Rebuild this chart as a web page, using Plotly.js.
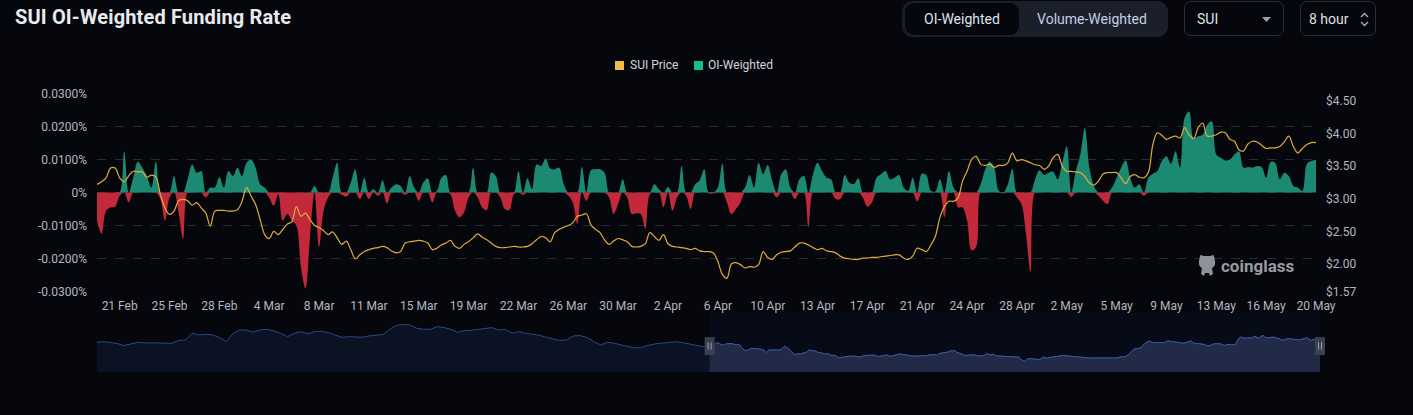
<!DOCTYPE html>
<html><head><meta charset="utf-8">
<script src="https://cdn.plot.ly/plotly-3.0.1.min.js"></script>
<style>
html,body{margin:0;padding:0;background:#05070d;width:1413px;height:415px;overflow:hidden;font-family:Roboto,"Noto Sans",sans-serif;}
#chart{position:absolute;left:0;top:0;width:1413px;height:415px;}
.ov{position:absolute;z-index:5;}
.title{left:15px;top:5px;font-weight:700;font-size:20px;letter-spacing:0.15px;color:#e8eaef;white-space:nowrap;}
.seg{left:902px;top:1px;width:266px;height:36px;border-radius:11px;background:#1b1f29;}
.seg .on{position:absolute;left:3px;top:2px;width:114px;height:32px;border-radius:9px;background:#05070d;color:#dde3ee;font-size:14px;line-height:32px;text-align:center;}
.seg .off{position:absolute;left:122px;top:2px;width:136px;height:32px;color:#c3d0e6;font-size:14px;line-height:32px;text-align:center;}
.box{top:1px;height:35px;border:1px solid #2a2f3a;border-radius:7px;color:#dde1e8;font-size:14px;line-height:35px;box-sizing:border-box;}
.wm{left:1197px;top:254px;color:#979ba3;font-weight:700;font-size:17px;white-space:nowrap;}
.lg{top:57px;font-size:12px;color:#d2d6de;white-space:nowrap;line-height:16px;}
.sw{position:absolute;top:4px;width:9px;height:9px;}
</style></head>
<body>
<div id="chart"></div>
<div class="ov title">SUI OI-Weighted Funding Rate</div>
<div class="ov seg"><div class="on">OI-Weighted</div><div class="off">Volume-Weighted</div></div>
<div class="ov box" style="left:1184px;width:100px;"><span style="position:absolute;left:12px;">SUI</span>
<svg style="position:absolute;left:77px;top:15px" width="9" height="5"><path d="M0 0 L9 0 L4.5 5 Z" fill="#9aa0aa"/></svg></div>
<div class="ov box" style="left:1300px;width:76px;"><span style="position:absolute;left:8px;">8 hour</span>
<svg style="position:absolute;left:59px;top:10px" width="9" height="15"><path d="M1 5 L4.5 1.5 L8 5 M1 10 L4.5 13.5 L8 10" stroke="#aab0ba" stroke-width="1.3" fill="none"/></svg></div>
<div class="ov lg" style="left:615px;"><span class="sw" style="left:0;background:#f0bc45"></span><span style="position:absolute;left:15px;">SUI Price</span></div>
<div class="ov lg" style="left:694px;"><span class="sw" style="left:0;background:#14c184"></span><span style="position:absolute;left:14px;">OI-Weighted</span></div>
<div class="ov wm"><svg width="20" height="24" style="vertical-align:middle;margin-right:4px"><path d="M3 2 Q4 0 6 2 L14 2 Q16 0 17 2 L18 7 Q19 12 15 14 L16 20 L13 22 L12 19 L8 19 L7 22 L4 20 L5 14 Q1 12 2 7 Z" fill="#8d9198"/></svg><span style="vertical-align:middle">coinglass</span></div>
<script>
const funding = [
-0.0085,-0.0125,-0.0055,-0.0045,-0.0043,-0.0010,0.0125,-0.0030,0.0045,0.0093,
0.0075,0.0050,0.0015,0.0093,-0.0020,-0.0085,-0.0015,0.0050,-0.0060,-0.0140,
0.0040,0.0085,0.0060,0.0065,-0.0015,0.0015,0.0015,0.0047,0.0015,0.0065,
0.0050,0.0075,0.0050,0.0090,0.0100,0.0075,0.0025,0.0015,-0.0015,-0.0040,
-0.0005,-0.0085,-0.0065,-0.0085,-0.0100,-0.0225,-0.0290,-0.0135,0.0020,-0.0165,
-0.0055,-0.0015,0.0045,0.0090,-0.0007,-0.0013,0.0030,0.0070,-0.0020,0.0045,
-0.0020,0.0010,-0.0010,0.0037,-0.0033,0.0015,0.0025,0.0020,-0.0007,0.0050,
0.0015,-0.0025,0.0030,0.0043,-0.0030,0.0005,0.0045,0.0053,-0.0005,-0.0055,
-0.0075,-0.0060,-0.0015,0.0075,-0.0015,-0.0045,-0.0053,0.0060,0.0050,-0.0015,
-0.0050,-0.0053,-0.0005,0.0065,-0.0007,0.0043,0.0010,0.0085,0.0080,0.0103,
0.0073,0.0070,0.0075,0.0025,-0.0010,-0.0030,-0.0095,0.0077,-0.0025,0.0067,
0.0070,0.0070,0.0060,-0.0015,-0.0065,-0.0035,0.0040,-0.0015,-0.0065,-0.0063,
-0.0065,-0.0110,-0.0005,0.0025,0.0010,-0.0045,0.0017,-0.0055,-0.0015,0.0080,
-0.0010,-0.0050,0.0025,0.0037,0.0070,-0.0003,-0.0003,0.0015,0.0087,-0.0030,
-0.0065,-0.0050,-0.0030,0.0015,0.0053,0.0015,0.0090,0.0055,0.0083,0.0035,
-0.0015,0.0055,0.0070,0.0015,-0.0020,0.0040,0.0050,-0.0105,0.0055,0.0090,
0.0065,0.0045,0.0040,-0.0020,-0.0020,0.0053,0.0030,0.0025,0.0043,-0.0015,
-0.0043,-0.0030,0.0045,0.0055,0.0065,0.0040,0.0045,0.0053,0.0015,0.0005,
0.0045,-0.0027,0.0057,0.0053,0.0005,0.0003,0.0040,-0.0075,0.0065,0.0015,
-0.0045,-0.0045,-0.0085,-0.0175,-0.0165,0.0025,0.0070,0.0093,0.0075,0.0005,
-0.0003,0.0025,0.0072,-0.0015,-0.0035,-0.0125,-0.0240,0.0040,0.0067,0.0053,
0.0060,0.0063,0.0040,0.0090,0.0140,-0.0013,0.0065,0.0115,0.0195,0.0075,
0.0020,-0.0010,-0.0025,-0.0035,0.0015,0.0045,0.0075,0.0097,0.0045,0.0015,
0.0025,-0.0010,0.0045,0.0057,0.0065,0.0095,0.0110,0.0087,0.0125,0.0075,
0.0225,0.0245,0.0165,0.0170,0.0175,0.0205,0.0215,0.0115,0.0105,0.0097,
0.0100,0.0115,0.0125,0.0075,0.0077,0.0075,0.0080,0.0077,0.0045,0.0093,
0.0090,0.0040,0.0060,0.0050,0.0020,0.0015,0.0005,0.0087,0.0095,0.0100
];
const price = [
3.22,3.26,3.32,3.47,3.47,3.32,3.26,3.35,3.42,3.41,
3.41,3.33,3.36,3.33,3.06,2.86,2.76,2.81,2.97,2.99,
2.97,2.90,2.94,2.86,2.78,2.58,2.81,2.82,2.82,2.81,
2.81,2.83,2.96,3.17,3.04,2.91,2.68,2.45,2.39,2.50,
2.45,2.53,2.61,2.65,2.88,2.73,2.78,2.68,2.59,2.56,
2.51,2.45,2.49,2.40,2.30,2.35,2.22,2.08,2.14,2.19,
2.22,2.24,2.25,2.27,2.25,2.20,2.17,2.19,2.32,2.34,
2.35,2.36,2.35,2.32,2.22,2.24,2.29,2.32,2.36,2.27,
2.24,2.30,2.34,2.40,2.46,2.41,2.37,2.32,2.27,2.25,
2.25,2.26,2.27,2.26,2.26,2.27,2.31,2.37,2.42,2.40,
2.34,2.48,2.53,2.56,2.59,2.63,2.73,2.75,2.77,2.60,
2.53,2.48,2.37,2.30,2.35,2.39,2.37,2.34,2.27,2.26,
2.27,2.31,2.48,2.42,2.36,2.45,2.31,2.27,2.26,2.25,
2.24,2.22,2.24,2.20,2.19,2.19,2.17,2.04,1.84,1.78,
2.00,2.02,1.99,1.94,1.96,1.95,1.99,2.19,2.10,2.07,
2.14,2.18,2.19,2.20,2.26,2.32,2.32,2.29,2.25,2.22,
2.24,2.20,2.19,2.17,2.12,2.09,2.08,2.07,2.07,2.09,
2.09,2.10,2.10,2.11,2.12,2.13,2.14,2.14,2.09,2.07,
2.12,2.24,2.22,2.19,2.29,2.42,2.71,2.88,2.96,2.96,
3.01,3.27,3.42,3.60,3.65,3.53,3.51,3.53,3.48,3.51,
3.51,3.55,3.70,3.58,3.60,3.58,3.55,3.52,3.51,3.45,
3.50,3.63,3.68,3.50,3.42,3.42,3.41,3.40,3.34,3.24,
3.21,3.27,3.38,3.40,3.40,3.40,3.32,3.23,3.34,3.37,
3.33,3.32,3.40,3.83,4.01,3.97,3.91,3.94,3.96,3.93,
4.09,3.98,3.92,4.09,4.16,3.96,3.96,3.98,4.02,4.01,
3.91,3.88,3.75,3.73,3.84,3.88,3.87,3.82,3.77,3.78,
3.78,3.80,3.87,3.96,3.80,3.70,3.77,3.83,3.86,3.86
];
// daily SUI price before the zoomed window (navigator only)
const earlyPrice = [
3.54,3.60,3.51,3.42,3.24,3.42,3.54,3.48,3.51,3.48,
3.45,3.45,3.70,3.76,4.37,4.22,4.28,4.22,3.97,3.60,
4.37,4.68,4.65,4.49,4.68,4.74,4.59,4.37,4.06,4.37,
4.53,4.31,4.53,4.56,4.43,4.19,4.00,4.06,4.06,4.00,
4.13,4.19,4.25,4.74,5.11,5.20,5.14,4.83,4.74,4.74,
4.99,4.90,4.74,4.46,4.62,4.65,4.74,4.80,4.90,4.68,
4.74,4.37,4.53,4.37,4.25,4.19,4.00,3.82,3.70,3.76,
4.13,4.16,3.97,3.60,3.29,3.54,3.45,3.29,3.14,3.02,
3.05,3.26,3.39,3.45,3.54,3.60,3.51,3.39,3.26,3.14
];
const tickLabels = ['21 Feb','25 Feb','28 Feb','4 Mar','8 Mar','11 Mar','15 Mar','19 Mar','22 Mar','26 Mar','30 Mar','2 Apr','6 Apr','10 Apr','13 Apr','17 Apr','21 Apr','24 Apr','28 Apr','2 May','5 May','9 May','13 May','16 May','20 May'];
const fundingTicks = [-0.03,-0.02,-0.01,0,0.01,0.02,0.03];
const fundingTickLabels = ['-0.0300%','-0.0200%','-0.0100%','0%','0.0100%','0.0200%','0.0300%'];
const priceTicks = [1.57,2,2.5,3,3.5,4,4.5];
const priceTickLabels = ['$1.57','$2.00','$2.50','$3.00','$3.50','$4.00','$4.50'];

function fmt(ms){const d=new Date(ms);const p=n=>String(n).padStart(2,'0');
  return d.getUTCFullYear()+'-'+p(d.getUTCMonth()+1)+'-'+p(d.getUTCDate())+' '+p(d.getUTCHours())+':00';}
const start = Date.UTC(2025,1,19,16);
const dates = funding.map((_,i)=>fmt(start+i*8*3600e3));
const earlyStart = Date.UTC(2024,10,21,16);
const earlyDates = earlyPrice.map((_,i)=>fmt(earlyStart+i*86400e3));
const tickVals = tickLabels.map((_,k)=>dates[5+11*k]);

const pos = funding.map(v=>v>0?v:0);
const neg = funding.map(v=>v<0?v:0);
const tf = {family:'Roboto',size:12,color:'#b3b7bf'};

const traces = [
 {x:dates,y:neg,type:'scatter',mode:'lines',line:{shape:'spline',width:0,color:'#c4293b'},fill:'tozeroy',fillcolor:'#c4293b',hoverinfo:'skip'},
 {x:dates,y:pos,type:'scatter',mode:'lines',line:{shape:'spline',width:0,color:'#1c8a72'},fill:'tozeroy',fillcolor:'#1c8a72',hoverinfo:'skip'},
 {x:dates,y:price,yaxis:'y2',type:'scatter',mode:'lines',line:{shape:'spline',width:1.2,color:'#e0ad3a'}},
 {x:earlyDates.concat(dates),y:earlyPrice.concat(price),xaxis:'x2',yaxis:'y3',type:'scatter',mode:'lines',line:{width:1,color:'#2a4886'},fill:'tozeroy',fillcolor:'#0b1223',hoverinfo:'skip'},
 {x:dates,y:price,xaxis:'x2',yaxis:'y3',type:'scatter',mode:'lines',line:{width:1,color:'#3a5a9c'},fill:'tozeroy',fillcolor:'#212b47',hoverinfo:'skip'}
];
const navTop = 0.2115;
const hY0 = 0.061, hY1 = 0.125, lY0 = 0.08, lY1 = 0.106;
const layout = {
 width:1413,height:415,paper_bgcolor:'#05070d',plot_bgcolor:'rgba(0,0,0,0)',
 margin:{l:97,r:93,t:93,b:43},
 font:{family:'Roboto',color:'#b3b7bf'},
 showlegend:false,
 xaxis:{domain:[0,0.99673],anchor:'y',type:'date',range:[dates[0],dates[dates.length-1]],tickmode:'array',tickvals:tickVals,ticktext:tickLabels,showgrid:false,zeroline:false,showline:false,ticks:'',tickfont:tf,ticklabelstandoff:5,fixedrange:true},
 yaxis:{domain:[0.2867,1],range:[-0.0301,0.0301],tickmode:'array',tickvals:fundingTicks,ticktext:fundingTickLabels,showgrid:true,gridcolor:'#272b35',griddash:'dash',gridwidth:1,zeroline:false,showline:false,ticks:'',tickfont:tf,ticklabelstandoff:9,fixedrange:true},
 yaxis2:{overlaying:'y',side:'right',anchor:'x',range:[1.57,4.62],tickmode:'array',tickvals:priceTicks,ticktext:priceTickLabels,showgrid:false,zeroline:false,showline:false,ticks:'',tickfont:tf,ticklabelstandoff:9,fixedrange:true},
 xaxis2:{domain:[0,1],anchor:'y3',type:'date',range:[earlyDates[0],dates[dates.length-1]],visible:false,fixedrange:true},
 yaxis3:{domain:[0,navTop],anchor:'x2',range:[0.79,6.25],visible:false,fixedrange:true},
 shapes:[
  {type:'rect',xref:'x2',yref:'paper',x0:dates[0],x1:dates[dates.length-1],y0:0,y1:navTop,fillcolor:'#070b17',line:{width:0},layer:'below'},
  {type:'rect',xref:'x2',yref:'paper',xsizemode:'pixel',xanchor:dates[0],x0:-5,x1:5,y0:hY0,y1:hY1,fillcolor:'#3a404e',line:{width:0}},
  {type:'rect',xref:'paper',yref:'paper',xsizemode:'pixel',xanchor:1,x0:-5,x1:5,y0:hY0,y1:hY1,fillcolor:'#3a404e',line:{width:0}},
  {type:'line',xref:'x2',yref:'paper',xsizemode:'pixel',xanchor:dates[0],x0:-1.5,x1:-1.5,y0:lY0,y1:lY1,line:{color:'#9aa0ac',width:1}},
  {type:'line',xref:'x2',yref:'paper',xsizemode:'pixel',xanchor:dates[0],x0:1.5,x1:1.5,y0:lY0,y1:lY1,line:{color:'#9aa0ac',width:1}},
  {type:'line',xref:'paper',yref:'paper',xsizemode:'pixel',xanchor:1,x0:-1.5,x1:-1.5,y0:lY0,y1:lY1,line:{color:'#9aa0ac',width:1}},
  {type:'line',xref:'paper',yref:'paper',xsizemode:'pixel',xanchor:1,x0:1.5,x1:1.5,y0:lY0,y1:lY1,line:{color:'#9aa0ac',width:1}}
 ]
};
Plotly.newPlot('chart',traces,layout,{displayModeBar:false,staticPlot:true});
</script>
</body></html>
